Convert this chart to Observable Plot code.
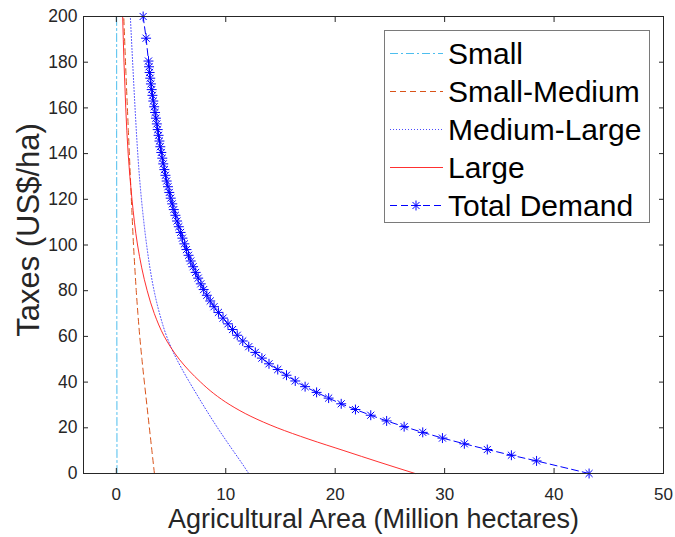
<!DOCTYPE html>
<html>
<head>
<meta charset="utf-8">
<script src="https://cdn.jsdelivr.net/npm/d3@7"></script>
<script src="https://cdn.jsdelivr.net/npm/@observablehq/plot@0.6"></script>
<style>
  html, body { margin: 0; padding: 0; background: #fff; }
  #wrap { position: relative; width: 675px; height: 537px; font-family: "Liberation Sans", Arial, sans-serif; }
  #legend { position: absolute; left: 384px; top: 30px; }
</style>
</head>
<body>
<div id="wrap"></div>
<script>
// ---- data ----
const xTicks = [0, 10, 20, 30, 40, 50];
const yTicks = [0, 20, 40, 60, 80, 100, 120, 140, 160, 180, 200];
const seriesNames = ["Small", "Small-Medium", "Medium-Large", "Large", "Total Demand"];
const xLabel = "Agricultural Area (Million hectares)";
const yLabel = "Taxes (US$/ha)";

const smallTax  = [0, 50, 100, 150, 200];
const smallArea = [0.06, 0.05, 0.04, 0.03, 0.03];

const smTax  = [0, 10, 20, 30, 40, 50, 60, 70, 80, 90, 100, 115, 130, 150, 175, 200];
const smArea = [3.48, 3.25, 3.02, 2.79, 2.56, 2.34, 2.14, 1.97, 1.82, 1.69, 1.57, 1.42, 1.28, 1.1, 0.88, 0.68];

const mlTax  = [0, 5, 10, 15, 20, 25, 30, 35, 40, 45, 50, 55, 60, 70, 80, 90, 100, 115, 130, 145, 160, 180, 200];
const mlArea = [12.1, 11.4, 10.67, 9.95, 9.25, 8.58, 7.93, 7.3, 6.68, 6.08, 5.52, 5.02, 4.6, 3.95, 3.45, 3.07, 2.77, 2.4, 2.11, 1.89, 1.71, 1.49, 1.28];

const largeTax  = [0, 5, 10, 15, 20, 25, 30, 35, 40, 45, 50, 55, 60, 70, 80, 90, 100, 120, 140, 160, 180, 200];
const largeArea = [27.3, 24.0, 20.8, 17.6, 14.7, 12.3, 10.4, 8.9, 7.7, 6.65, 5.75, 5.0, 4.38, 3.47, 2.82, 2.32, 1.94, 1.43, 1.08, 0.86, 0.7, 0.58];

const totalTax = [0, 5.5, 8, 10.5, 13, 15.5, 18, 20.5, 23, 25.5, 28, 30.5, 33, 35.5, 38, 40.5, 43, 45.5, 48, 50.5,
  53, 55.5, 58, 60.5, 63, 65.5, 68, 70.5, 73, 75.5, 78, 80.5, 83, 85.5, 88, 90.5, 93, 95.5, 98, 100.5,
  103, 105.5, 108, 110.5, 113, 115.5, 118, 120.5, 123, 125.5, 128, 130.5, 133, 135.5, 138, 140.5, 143, 145.5,
  148, 150.5, 153, 155.5, 158, 160.5, 163, 165.5, 168, 170.5, 173, 175.5, 178, 180.5, 190.5, 200];
const totalArea = [43.2, 38.4, 36.1, 33.9, 31.8, 29.8, 28.0, 26.3, 24.7, 23.25, 21.85, 20.55, 19.4, 18.3, 17.25, 16.35, 15.55, 14.75, 13.95, 13.3,
  12.7, 12.1, 11.55, 11.05, 10.62, 10.2, 9.75, 9.33, 8.93, 8.58, 8.27, 7.98, 7.72, 7.48, 7.25, 7.02, 6.8, 6.6, 6.41, 6.22,
  6.04, 5.87, 5.71, 5.55, 5.4, 5.25, 5.11, 4.97, 4.84, 4.72, 4.6, 4.49, 4.39, 4.29, 4.2, 4.11, 4.02, 3.94,
  3.86, 3.78, 3.7, 3.62, 3.54, 3.46, 3.38, 3.3, 3.23, 3.16, 3.1, 3.04, 2.99, 2.94, 2.72, 2.45];

// ---- styles ----
const styles = [
  {stroke: "#4DBEEE", dash: "8,3,2,3", width: 1, opacity: 1},
  {stroke: "#D95319", dash: "6,4", width: 1, opacity: 1},
  {stroke: "#2a2aff", dash: "1,2", width: 1, opacity: 0.85},
  {stroke: "#ff1a1a", dash: null, width: 1, opacity: 0.9},
  {stroke: "#0000ff", dash: "7,4", width: 1, opacity: 1}
];

const toRows = (tax, area) => tax.map((t, i) => ({tax: t, area: area[i]}));
const small = toRows(smallTax, smallArea);
const sm = toRows(smTax, smArea);
const ml = toRows(mlTax, mlArea);
const large = toRows(largeTax, largeArea);
const total = toRows(totalTax, totalArea);

const lineMark = (data, s, curve) => Plot.line(data, {
  x: "area", y: "tax", stroke: s.stroke, strokeWidth: s.width,
  strokeDasharray: s.dash, strokeOpacity: s.opacity, curve: curve || "monotone-y"
});

const font = "Liberation Sans, Arial, sans-serif";
const axisColor = "#262626";

const chart = Plot.plot({
  width: 675,
  height: 537,
  marginLeft: 83,
  marginRight: 12,
  marginTop: 16,
  marginBottom: 64,
  style: {fontFamily: font, color: axisColor, background: "#fff", overflow: "visible"},
  x: {domain: [-3, 50], ticks: xTicks},
  y: {domain: [0, 200], ticks: yTicks},
  marks: [
    lineMark(small, styles[0], "linear"),
    lineMark(sm, styles[1]),
    lineMark(ml, styles[2]),
    lineMark(large, styles[3]),
    lineMark(total, styles[4], "linear"),
    Plot.dot(total, {x: "area", y: "tax", symbol: "plus", r: 3.3, stroke: "#0000ff", strokeWidth: 1}),
    Plot.dot(total, {x: "area", y: "tax", symbol: "times", r: 3.3, stroke: "#0000ff", strokeWidth: 1}),
    Plot.frame({stroke: axisColor, strokeWidth: 1}),
    // tick labels
    Plot.axisX(xTicks, {anchor: "bottom", tickSize: 0, tickPadding: 14, fontSize: 17, label: null}),
    Plot.axisY(yTicks, {anchor: "left", tickSize: 0, tickPadding: 6, fontSize: 17.5, label: null}),
    // inward ticks on all four sides
    Plot.axisX(xTicks, {anchor: "bottom", tickSize: -5, tickFormat: () => "", label: null}),
    Plot.axisX(xTicks, {anchor: "top", tickSize: -5, tickFormat: () => "", label: null}),
    Plot.axisY(yTicks, {anchor: "left", tickSize: -5, tickFormat: () => "", label: null}),
    Plot.axisY(yTicks, {anchor: "right", tickSize: -5, tickFormat: () => "", label: null}),
    // axis titles
    Plot.text([xLabel], {frameAnchor: "bottom", textAnchor: "middle", dy: 54, fontSize: 27, fill: axisColor}),
    Plot.text([yLabel], {frameAnchor: "left", textAnchor: "middle", dx: -54, dy: -15, rotate: -90, fontSize: 31, fill: axisColor})
  ]
});

const wrap = document.getElementById("wrap");
wrap.appendChild(chart);

// ---- legend (overlay inside the plot area) ----
const lw = 266, lh = 193;
const leg = d3.select(wrap).append("svg")
  .attr("id", "legend").attr("width", lw).attr("height", lh)
  .style("font-family", font);
leg.append("rect").attr("x", 0.5).attr("y", 0.5).attr("width", lw - 1).attr("height", lh - 1)
  .attr("fill", "#fff").attr("stroke", "#7a7a7a").attr("stroke-width", 1);
seriesNames.forEach((name, i) => {
  const cy = 23.5 + i * 38;
  const s = styles[i];
  leg.append("line").attr("x1", 6).attr("x2", 59).attr("y1", cy).attr("y2", cy)
    .attr("stroke", s.stroke).attr("stroke-width", s.width).attr("stroke-opacity", s.opacity)
    .attr("stroke-dasharray", s.dash);
  if (i === 4) {
    leg.append("path").attr("d", d3.symbol(d3.symbolPlus, Math.PI * 3.3 * 3.3)())
      .attr("transform", `translate(32,${cy})`).attr("fill", "none").attr("stroke", "#0000ff");
    leg.append("path").attr("d", d3.symbol(d3.symbolTimes, Math.PI * 3.3 * 3.3)())
      .attr("transform", `translate(32,${cy})`).attr("fill", "none").attr("stroke", "#0000ff");
  }
  leg.append("text").attr("x", 64).attr("y", cy).attr("dy", "0.36em")
    .attr("font-size", 30).attr("fill", "#000").text(name);
});
</script>
</body>
</html>
